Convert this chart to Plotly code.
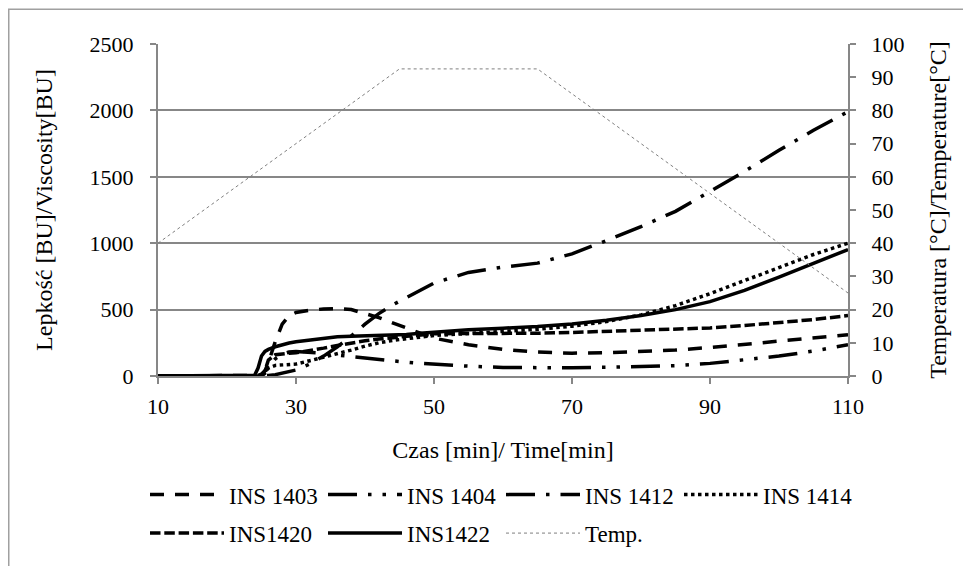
import plotly.graph_objects as go

# ---- data ----
time_min = [10, 20, 24, 24.5, 25, 25.5, 26, 27, 28, 29, 30, 32, 34, 36, 38, 40, 42, 44, 46, 48,
            50, 55, 60, 65, 70, 75, 80, 85, 90, 95, 100, 105, 110]

ins1403 = [0, 0, 0, 5, 15, 40, 100, 260, 390, 455, 478, 495, 505, 508, 500, 470, 440, 400, 360, 320,
           285, 235, 200, 180, 172, 175, 182, 195, 215, 240, 265, 290, 310]
ins1404 = [0, 0, 0, 2, 10, 30, 70, 130, 165, 180, 185, 180, 170, 158, 146, 135, 124, 114, 104, 95,
           88, 74, 64, 60, 62, 66, 70, 78, 95, 120, 150, 188, 235]
ins1412 = [0, 0, 0, 0, 0, 0, 3, 10, 20, 30, 45, 90, 150, 220, 300, 390, 470, 535, 590, 645,
           700, 780, 820, 850, 920, 1020, 1125, 1240, 1390, 1540, 1700, 1850, 1990]
ins1414 = [0, 0, 0, 0, 0, 20, 60, 80, 82, 85, 90, 115, 140, 168, 195, 225, 250, 268, 282, 295,
           305, 320, 335, 352, 375, 410, 460, 530, 620, 720, 820, 915, 1000]
ins1420 = [0, 0, 0, 0, 0, 40, 120, 160, 168, 172, 175, 190, 210, 230, 250, 265, 278, 288, 300, 310,
           318, 320, 320, 322, 328, 335, 342, 350, 362, 380, 400, 425, 455]
ins1422 = [0, 0, 5, 60, 150, 185, 200, 220, 235, 248, 258, 272, 285, 295, 300, 303, 306, 309, 313, 322,
           330, 348, 360, 372, 392, 420, 455, 500, 560, 645, 745, 850, 952]

temp_time = [10, 45, 65, 110]
temp_c = [40, 92.5, 92.5, 25]

x_ticks = [10, 30, 50, 70, 90, 110]

# ---- styles ----
W = 3.5
FONT = "Liberation Serif"
AX = "#878787"

series = [
    ("INS 1403", ins1403, "14px,11px", "legend"),
    ("INS 1404", ins1404, "29px,11px,3.5px,11px,3.5px,11px", "legend"),
    ("INS 1412", ins1412, "29px,11px,3.5px,11px", "legend"),
    ("INS 1414", ins1414, "3.5px,3.5px", "legend"),
    ("INS1420", ins1420, "10.5px,3.8px", "legend2"),
    ("INS1422", ins1422, "solid", "legend2"),
]

fig = go.Figure()
for name, vals, dash, leg in series:
    fig.add_trace(go.Scatter(
        x=time_min, y=vals, name=name, mode="lines",
        line=dict(color="black", width=W, dash=dash),
        legend=leg, yaxis="y"))

fig.add_trace(go.Scatter(
    x=temp_time, y=temp_c, name="Temp.", mode="lines",
    line=dict(color="#7f7f7f", width=1, dash="dot"),
    legend="legend2", yaxis="y2"))

leg_common = dict(orientation="h", xanchor="left", yanchor="middle",
                  entrywidth=89, entrywidthmode="pixels", itemwidth=74,
                  font=dict(family=FONT, size=23), bgcolor="rgba(0,0,0,0)")

# page has an 8px body margin: figure drawn from (8,8)
L, T, PW, PH = 150, 36, 690, 336
FW, FH = 963, 558

fig.update_layout(
    width=FW, height=FH, autosize=False,
    margin=dict(l=L, r=FW - L - PW, t=T, b=FH - T - PH),
    paper_bgcolor="white", plot_bgcolor="white",
    font=dict(family=FONT, size=22, color="black"),
    xaxis=dict(range=[10, 110], tickvals=x_ticks, ticktext=[str(v) for v in x_ticks],
               showgrid=False, zeroline=False, showline=True, linecolor=AX, linewidth=2,
               ticks="outside", ticklen=6, tickcolor=AX, tickwidth=2, ticklabelstandoff=4,
               title=dict(text="Czas [min]/ Time[min]", standoff=23,
                          font=dict(family=FONT, size=24))),
    yaxis=dict(range=[0, 2500], dtick=500, showgrid=True, gridcolor=AX, gridwidth=2,
               zeroline=False, showline=True, linecolor=AX, linewidth=2,
               ticks="outside", ticklen=6, tickcolor=AX, tickwidth=2, ticklabelstandoff=12,
               title=dict(text="Lepkość [BU]/Viscosity[BU]", standoff=30,
                          font=dict(family=FONT, size=24))),
    yaxis2=dict(range=[0, 100], dtick=10, overlaying="y", side="right", showgrid=False,
                zeroline=False, showline=True, linecolor=AX, linewidth=2,
                ticks="outside", ticklen=6, tickcolor=AX, tickwidth=2, ticklabelstandoff=11,
                title=dict(text="Temperatura [°C]/Temperature[°C]", standoff=26,
                           font=dict(family=FONT, size=24))),
    legend=dict(x=-13 / PW, y=-0.3573, **leg_common),
    legend2=dict(x=-13 / PW, y=-0.4733, **leg_common),
    showlegend=True,
    shapes=[dict(type="rect", xref="paper", yref="paper",
                 x0=(0.75 - L) / PW, x1=(960 - L) / PW,
                 y0=(T + PH - 600) / PH, y1=(T + PH - 0.75) / PH,
                 line=dict(color="#a0a0a0", width=1.5), layer="below")],
)

fig.write_html("out.html")
